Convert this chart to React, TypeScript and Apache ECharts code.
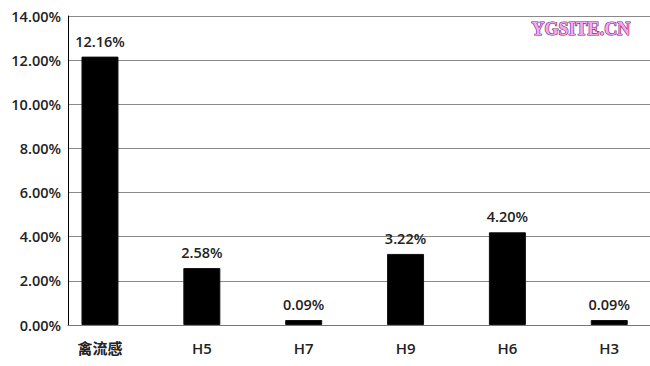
import React, { useEffect, useRef } from "react";
import * as echarts from "echarts";

const categories = ["禽流感", "H5", "H7", "H9", "H6", "H3"];
const values = [12.16, 2.58, 0.09, 3.22, 4.2, 0.09];
const yTicks = [0, 2, 4, 6, 8, 10, 12, 14];

export default function App() {
  const ref = useRef<HTMLDivElement>(null);
  useEffect(() => {
    const chart = echarts.init(ref.current!, null, { renderer: "svg" });
    const font = "'Open Sans', 'DejaVu Sans', sans-serif";
    chart.setOption({
      animation: false,
      backgroundColor: "#ffffff",
      grid: { left: 68, right: 0, top: 16, bottom: 41 },
      xAxis: {
        type: "value",
        min: -0.314,
        max: 5.4,
        splitLine: { show: false },
        axisLine: { show: true, onZero: false, lineStyle: { color: "#777", width: 1 } },
        axisTick: { show: false },
        axisLabel: {
          customValues: categories.map((_, i) => i),
          formatter: (v: number) => categories[Math.round(v)] ?? "",
          color: "#222",
          fontSize: 15,
          fontWeight: 600,
          fontFamily: "'Open Sans', 'Noto Sans CJK SC', sans-serif",
          margin: 15,
        },
      },
      yAxis: {
        type: "value",
        min: yTicks[0],
        max: yTicks[yTicks.length - 1],
        interval: 2,
        axisLine: { show: true, onZero: false, lineStyle: { color: "#000", width: 1 } },
        axisTick: { show: false },
        splitLine: { show: true, lineStyle: { color: "#8a8a8a", width: 1 } },
        axisLabel: {
          formatter: (v: number) => v.toFixed(2) + "%",
          color: "#222",
          fontSize: 14.5,
          fontWeight: 600,
          fontFamily: font,
          margin: 7,
        },
      },
      series: [
        {
          type: "bar",
          barWidth: 37,
          barMinHeight: 5,
          data: values.map((v, i) => [i, v]),
          itemStyle: { color: "#000", borderColor: "#111", borderWidth: 1 },
          label: {
            show: true,
            position: "top",
            distance: 8,
            formatter: (p: any) => p.value[1].toFixed(2) + "%",
            color: "#222",
            fontSize: 14.5,
            fontWeight: 600,
            fontFamily: font,
          },
        },
      ],
      graphic: [
        {
          type: "text",
          left: 531,
          top: 19,
          style: {
            text: "YGSITE.CN",
            fontSize: 18,
            fontWeight: "bold",
            fontFamily: "'Liberation Serif', serif",
            fill: "#f4a6ee",
            stroke: "#6a2a7a",
            lineWidth: 1.2,
          },
        },
      ],
    });
    return () => chart.dispose();
  }, []);
  return <div ref={ref} style={{ width: 650, height: 366, position: "absolute", left: 0, top: 0 }} />;
}
